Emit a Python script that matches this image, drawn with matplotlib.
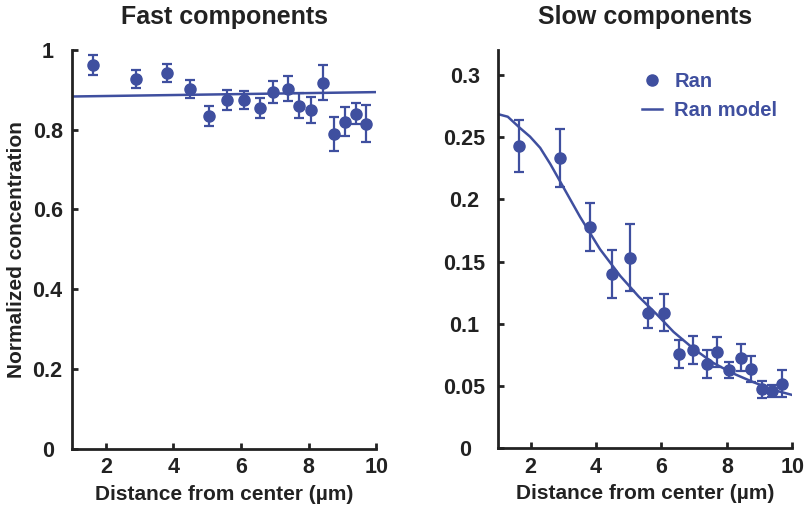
import matplotlib
matplotlib.use('Agg')
import matplotlib.pyplot as plt
from matplotlib.lines import Line2D
from matplotlib.ticker import FuncFormatter

plt.rcParams['font.family'] = ['Liberation Sans', 'DejaVu Sans']
plt.rcParams['font.weight'] = 'bold'

# distance of each measured ring (µm)
distance = [1.63, 2.9, 3.81, 4.5, 5.05, 5.58, 6.09, 6.55, 6.95, 7.4,
            7.71, 8.07, 8.43, 8.74, 9.07, 9.39, 9.7]

# fast components
fast_conc = [0.962, 0.927, 0.942, 0.902, 0.834, 0.874, 0.875, 0.854, 0.894,
             0.903, 0.86, 0.849, 0.918, 0.789, 0.82, 0.84, 0.815]
fast_err = [0.025, 0.022, 0.022, 0.023, 0.024, 0.025, 0.023, 0.026, 0.028,
            0.031, 0.032, 0.032, 0.043, 0.042, 0.036, 0.026, 0.047]
fast_model_x = [1.0, 10.0]
fast_model_y = [0.883, 0.894]

# slow components
slow_conc = [0.243, 0.2335, 0.178, 0.140, 0.153, 0.109, 0.109, 0.0757, 0.079,
             0.0677, 0.0776, 0.0629, 0.0728, 0.0634, 0.0473, 0.046, 0.052]
slow_err = [0.021, 0.0235, 0.0195, 0.019, 0.027, 0.012, 0.015, 0.011, 0.011,
            0.011, 0.012, 0.0065, 0.011, 0.0105, 0.007, 0.005, 0.011]
slow_model_x = [1.0, 1.3, 1.67, 1.98, 2.29, 2.6, 2.9, 3.51, 4.12, 4.74, 5.3,
                5.86, 6.37, 6.98, 7.59, 8.2, 8.82, 9.43, 10.0]
slow_model_y = [0.2686, 0.2665, 0.2575, 0.2505, 0.2415, 0.2285, 0.2145, 0.186,
                0.16, 0.1385, 0.122, 0.1075, 0.0935, 0.08, 0.0685, 0.06, 0.053,
                0.0468, 0.0428]

blue = '#3f4f9f'
dark = '#222222'

fig = plt.figure(figsize=(8.05, 5.08), dpi=100)
ax1 = fig.add_axes([0.0894, 0.116, 0.378, 0.786])
ax2 = fig.add_axes([0.6186, 0.1177, 0.3656, 0.7835])


def style_axis(ax, ypad):
    for side in ['top', 'right']:
        ax.spines[side].set_visible(False)
    for side in ['left', 'bottom']:
        ax.spines[side].set_linewidth(2)
        ax.spines[side].set_color(dark)
    ax.tick_params(direction='in', length=4, width=2, color=dark,
                   labelsize=15.5, labelcolor=dark)
    ax.tick_params(axis='x', pad=6)
    ax.tick_params(axis='y', pad=ypad)
    ax.set_xlim(1, 10)
    ax.set_xticks([2, 4, 6, 8, 10])
    ax.set_xlabel('Distance from center (µm)', fontsize=15,
                  fontweight='bold', color=dark, labelpad=5)


def center_ylabels(ax):
    for lab in ax.get_yticklabels():
        lab.set_horizontalalignment('center')


# left panel
ax1.errorbar(distance, fast_conc, yerr=fast_err, fmt='o', color=blue,
             markersize=8, elinewidth=1.6, capsize=3.5, capthick=1.6)
ax1.plot(fast_model_x, fast_model_y, color=blue, linewidth=1.8)
style_axis(ax1, 17.5)
ax1.set_ylim(0, 1)
ax1.set_yticks([0, 0.2, 0.4, 0.6, 0.8, 1])
ax1.yaxis.set_major_formatter(FuncFormatter(lambda v, p: '%g' % v))
center_ylabels(ax1)
ax1.set_ylabel('Normalized concentration', fontsize=15,
               fontweight='bold', color=dark, labelpad=5)
ax1.set_title('Fast components', fontsize=18, fontweight='bold',
              color=dark, pad=18.5)

# right panel
ax2.errorbar(distance, slow_conc, yerr=slow_err, fmt='o', color=blue,
             markersize=8, elinewidth=1.6, capsize=3.5, capthick=1.6)
ax2.plot(slow_model_x, slow_model_y, color=blue, linewidth=1.8)
style_axis(ax2, 24)
ax2.set_ylim(0, 0.32)
ax2.set_yticks([0, 0.05, 0.1, 0.15, 0.2, 0.25, 0.3])
ax2.yaxis.set_major_formatter(FuncFormatter(lambda v, p: '%g' % round(v, 3)))
center_ylabels(ax2)
ax2.set_title('Slow components', fontsize=18, fontweight='bold',
              color=dark, pad=18.5)

handles = [Line2D([], [], marker='o', linestyle='none', color=blue, markersize=8),
           Line2D([], [], color=blue, linewidth=1.8)]
leg = ax2.legend(handles, ['Ran', 'Ran model'], loc='upper left',
                 bbox_to_anchor=(0.49, 0.945), frameon=False, borderpad=0,
                 borderaxespad=0, handlelength=1.0, handletextpad=0.6,
                 labelspacing=0.5, prop={'size': 14.5, 'weight': 'bold'})
for t in leg.get_texts():
    t.set_color(blue)

fig.savefig('out.png', dpi=100)
